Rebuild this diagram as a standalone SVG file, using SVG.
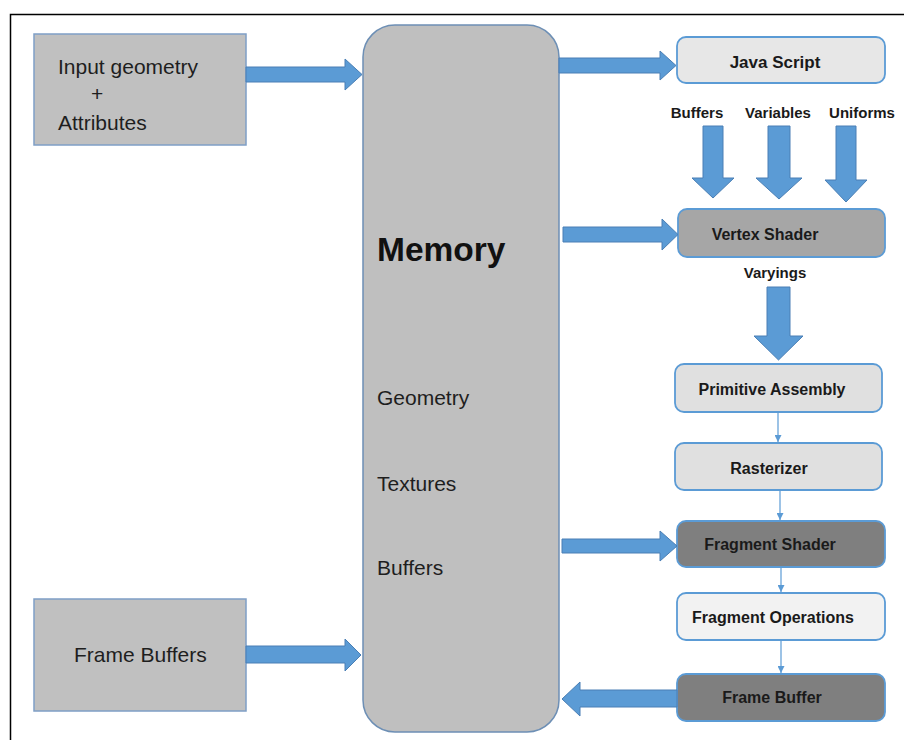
<svg xmlns="http://www.w3.org/2000/svg" width="904" height="740" viewBox="0 0 904 740">
<defs>
<style>
.frame{stroke:#000;stroke-width:1.5;fill:none}
.lbox{fill:#c0c0c0;stroke:#7f9fc6;stroke-width:1.5}
.mem{fill:#bfbfbf;stroke:#6d8fb5;stroke-width:1.5}
.rbox{stroke:#5b9bd5;stroke-width:1.8}
.blk{fill:#5b9bd5;stroke:#4a7fb5;stroke-width:1}
.thin{stroke:#5b9bd5;stroke-width:1.2;fill:none}
.t{font-family:"Liberation Sans",Arial,sans-serif;fill:#1e1e1e;font-size:21px}
.b{font-family:"Liberation Sans",Arial,sans-serif;fill:#1a1a1a;font-size:16px;font-weight:bold;text-anchor:middle}
.s{font-family:"Liberation Sans",Arial,sans-serif;fill:#1a1a1a;font-size:15px;font-weight:bold;text-anchor:middle}
</style>
<marker id="ah" viewBox="0 0 10 10" refX="10" refY="5" markerWidth="7" markerHeight="7" markerUnits="userSpaceOnUse" orient="auto">
<path d="M0,0 L10,5 L0,10 z" fill="#5b9bd5"/>
</marker>
</defs>
<rect width="904" height="740" fill="#fff"/>
<path class="frame" d="M10.5,740 V14.5 H904"/>

<g id="input-geometry">
<rect class="lbox" x="34" y="34" width="212" height="111"/>
<text class="t" x="58" y="74">Input geometry</text>
<text class="t" x="91" y="101">+</text>
<text class="t" x="58" y="130">Attributes</text>
</g>

<g id="frame-buffers">
<rect class="lbox" x="34" y="599" width="212" height="112"/>
<text class="t" x="74" y="662">Frame Buffers</text>
</g>

<g id="memory">
<rect class="mem" x="363" y="25" width="196" height="707" rx="32" ry="32"/>
<text class="t" x="377" y="261" style="font-size:33.5px;font-weight:bold;fill:#111">Memory</text>
<text class="t" x="377" y="405">Geometry</text>
<text class="t" x="377" y="491">Textures</text>
<text class="t" x="377" y="575">Buffers</text>
</g>

<g id="java-script">
<rect class="rbox" x="677" y="37" width="208" height="46" rx="9" fill="#e7e7e7"/>
<text class="b" x="775" y="68" style="font-size:17px">Java Script</text>
</g>

<g id="inputs-labels">
<text class="s" x="697" y="118">Buffers</text>
<text class="s" x="778" y="118">Variables</text>
<text class="s" x="862" y="118">Uniforms</text>
</g>

<g id="vertex-shader">
<rect class="rbox" x="678" y="209" width="207" height="48" rx="9" fill="#a6a6a6"/>
<text class="b" x="765" y="240">Vertex Shader</text>
</g>

<g id="varyings-label">
<text class="s" x="775" y="278">Varyings</text>
</g>

<g id="primitive-assembly">
<rect class="rbox" x="675" y="364" width="207" height="48" rx="9" fill="#e0e0e0"/>
<text class="b" x="772" y="395">Primitive Assembly</text>
</g>

<g id="rasterizer">
<rect class="rbox" x="675" y="443" width="207" height="47" rx="9" fill="#e0e0e0"/>
<text class="b" x="769" y="474">Rasterizer</text>
</g>

<g id="fragment-shader">
<rect class="rbox" x="677" y="521" width="208" height="46" rx="9" fill="#7f7f7f"/>
<text class="b" x="770" y="550">Fragment Shader</text>
</g>

<g id="fragment-operations">
<rect class="rbox" x="677" y="593" width="208" height="47" rx="9" fill="#f2f2f2"/>
<text class="b" x="773" y="623">Fragment Operations</text>
</g>

<g id="frame-buffer">
<rect class="rbox" x="677" y="674" width="208" height="47" rx="9" fill="#7f7f7f"/>
<text class="b" x="772" y="703">Frame Buffer</text>
</g>

<g id="connectors">
<polygon class="blk" points="246,67 345,67 345,59 362,74.5 345,90 345,82 246,82"/>
<polygon class="blk" points="246,646 345,646 345,639 361,655 345,671 345,663 246,663"/>
<polygon class="blk" points="559,58 660,58 660,51 676,65.5 660,80 660,73 559,73"/>
<polygon class="blk" points="563,227 662,227 662,219 678,234.5 662,250 662,242 563,242"/>
<polygon class="blk" points="562,539 660,539 660,531 677,546 660,561 660,553 562,553"/>
<polygon class="blk" points="677,690 580,690 580,682 562,699 580,716 580,707 677,707"/>
<polygon class="blk" points="703,126 723,126 723,178 734,178 713,198 692,178 703,178"/>
<polygon class="blk" points="768,126 790,126 790,178 802,178 779,199 756,178 768,178"/>
<polygon class="blk" points="836,126 856,126 856,180 867,180 846,202 825,180 836,180"/>
<polygon class="blk" points="767,287 790,287 790,336 803,336 778.5,360 754,336 767,336"/>
<line class="thin" x1="778" y1="412" x2="778" y2="442" marker-end="url(#ah)"/>
<line class="thin" x1="780" y1="490" x2="780" y2="520" marker-end="url(#ah)"/>
<line class="thin" x1="781" y1="567" x2="781" y2="592" marker-end="url(#ah)"/>
<line class="thin" x1="781" y1="640" x2="781" y2="673" marker-end="url(#ah)"/>
</g>
</svg>
